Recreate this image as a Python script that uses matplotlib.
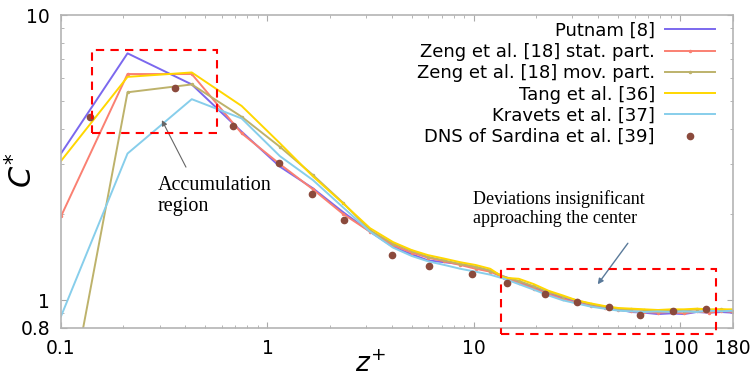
import numpy as np
import matplotlib
matplotlib.use("Agg")
import matplotlib.pyplot as plt
from matplotlib.patches import Rectangle
from matplotlib.ticker import FixedLocator, NullFormatter, LogLocator

# wall-normal distance z+ shared by the model curves
z_lines = [0.1, 0.21, 0.43, 0.75, 1.15, 1.66, 2.32, 3.14, 4.06, 5.0, 6.0, 7.2,
           8.6, 10.2, 12.0, 14.0, 16.5, 19.5, 23, 27, 31.5, 37, 43, 50, 58,
           67, 78, 90, 104, 120, 138, 158, 180]

c_putnam = [3.27, 7.34, 5.71, 3.90, 2.94, 2.47, 2.04, 1.74, 1.54, 1.45, 1.38,
            1.36, 1.34, 1.31, 1.27, 1.21, 1.16, 1.11, 1.06, 1.02, 0.99, 0.96,
            0.945, 0.93, 0.91, 0.905, 0.895, 0.90, 0.895, 0.91, 0.905, 0.91, 0.905]
c_zeng_stat = [1.97, 6.21, 6.21, 3.85, 3.00, 2.45, 2.01, 1.74, 1.56, 1.47, 1.41,
               1.37, 1.33, 1.29, 1.26, 1.20, 1.15, 1.10, 1.05, 1.01, 0.98, 0.955,
               0.94, 0.925, 0.915, 0.91, 0.905, 0.91, 0.90, 0.915, 0.905, 0.92, 0.91]
c_zeng_mov = [0.31, 5.36, 5.71, 4.40, 3.45, 2.75, 2.20, 1.76, 1.58, 1.49, 1.42,
              1.38, 1.34, 1.31, 1.27, 1.21, 1.17, 1.12, 1.07, 1.03, 1.00, 0.97,
              0.95, 0.935, 0.93, 0.925, 0.92, 0.925, 0.92, 0.93, 0.925, 0.93, 0.92]
c_tang = [3.08, 6.07, 6.29, 4.80, 3.55, 2.72, 2.19, 1.79, 1.60, 1.50, 1.44,
          1.40, 1.36, 1.33, 1.29, 1.20, 1.19, 1.14, 1.08, 1.04, 1.00, 0.975,
          0.955, 0.94, 0.935, 0.93, 0.925, 0.93, 0.93, 0.935, 0.93, 0.93, 0.93]
c_kravets = [0.879, 3.27, 5.07, 4.34, 3.20, 2.64, 2.12, 1.74, 1.53, 1.43, 1.37,
             1.33, 1.29, 1.26, 1.23, 1.19, 1.14, 1.09, 1.04, 1.00, 0.975, 0.95,
             0.935, 0.92, 0.915, 0.91, 0.915, 0.91, 0.915, 0.91, 0.92, 0.915, 0.92]

# DNS reference points
z_dns = [0.138, 0.356, 0.678, 1.14, 1.65, 2.35, 3.99, 6.05, 9.75, 14.4, 22.2,
         31.5, 44.9, 63.9, 92.3, 133]
c_dns = [4.38, 5.53, 4.08, 3.03, 2.35, 1.91, 1.446, 1.32, 1.234, 1.153, 1.052,
         0.986, 0.945, 0.888, 0.917, 0.930]

x_ticks = [0.1, 1, 10, 100, 180]
y_ticks = [0.8, 1, 10]

fig = plt.figure(figsize=(7.56, 3.79), dpi=100)
ax = fig.add_axes([0.0807, 0.1346, 0.8889, 0.8258])

ax.plot(z_lines, c_putnam, color="#7b68ee", lw=1.4, label="Putnam [8]")
ax.plot(z_lines, c_zeng_stat, color="#fa8072", lw=1.4, marker="o", ms=1.5,
        label="Zeng et al. [18] stat. part.")
ax.plot(z_lines, c_zeng_mov, color="#bdb26b", lw=1.4, marker="o", ms=1.5,
        label="Zeng et al. [18] mov. part.")
ax.plot(z_lines, c_tang, color="#ffd700", lw=1.4, label="Tang et al. [36]")
ax.plot(z_lines, c_kravets, color="#87ceeb", lw=1.4, label="Kravets et al. [37]")
ax.plot(z_dns, c_dns, ls="none", marker="o", ms=4.5, color="#8b4a3c",
        label="DNS of Sardina et al. [39]")

ax.set_xscale("log")
ax.set_yscale("log")
ax.set_xlim(0.1, 180)
ax.set_ylim(0.8, 10)

ax.xaxis.set_major_locator(FixedLocator(x_ticks))
ax.set_xticklabels(["0.1", "1", "10", "100", "180"])
ax.xaxis.set_minor_locator(LogLocator(base=10, subs=np.arange(2, 10)))
ax.xaxis.set_minor_formatter(NullFormatter())
ax.yaxis.set_major_locator(FixedLocator(y_ticks))
ax.set_yticklabels(["0.8", "1", "10"])
ax.yaxis.set_minor_locator(LogLocator(base=10, subs=np.arange(2, 10)))
ax.yaxis.set_minor_formatter(NullFormatter())

ax.tick_params(which="both", direction="in", top=True, right=True,
               color="#aaaaaa", labelsize=13.5)
ax.tick_params(which="major", length=4, pad=8)
ax.tick_params(which="minor", length=2.5)
for sp in ax.spines.values():
    sp.set_color("#b4b4b4")
    sp.set_linewidth(1.2)

ax.set_xlabel("$z^{+}$", fontsize=19)
ax.set_ylabel("$C^{*}$", fontsize=22)
ax.xaxis.set_label_coords(0.46, -0.075)
ax.yaxis.set_label_coords(-0.033, 0.505)

# highlighted regions
ax.add_patch(Rectangle((0.141, 3.87), 0.571 - 0.141, 7.54 - 3.87, fill=False,
                       ec="red", ls=(0, (4, 3)), lw=1.5, zorder=5))
ax.add_patch(Rectangle((13.5, 0.76), 148.6 - 13.5, 1.285 - 0.76, fill=False,
                       ec="red", ls=(0, (4, 3)), lw=1.5, zorder=5, clip_on=False))

ax.text(0.295, 2.72, "Accumulation\nregion", fontsize=14.5,
        family="Liberation Serif", ha="left", va="top", linespacing=1.15)
ax.annotate("", xy=(0.308, 4.28), xytext=(0.403, 2.93),
            arrowprops=dict(arrowstyle="-|>", color="#666666", lw=0.8,
                            shrinkA=0, shrinkB=0, mutation_scale=8))
ax.text(9.89, 2.43, "Deviations insignificant\napproaching the center",
        fontsize=13, family="Liberation Serif", ha="left", va="top",
        linespacing=1.15)
ax.annotate("", xy=(39.8, 1.138), xytext=(55.7, 1.585),
            arrowprops=dict(arrowstyle="-|>", color="#5a7a9a", lw=1.0,
                            shrinkA=0, shrinkB=0, mutation_scale=8))

ax.legend(loc="upper right", bbox_to_anchor=(0.99, 1.013), frameon=False,
          markerfirst=False, fontsize=13, labelspacing=0.18,
          handlelength=2.8, handletextpad=0.55, borderaxespad=0.2)

fig.savefig("out.png", dpi=100)
